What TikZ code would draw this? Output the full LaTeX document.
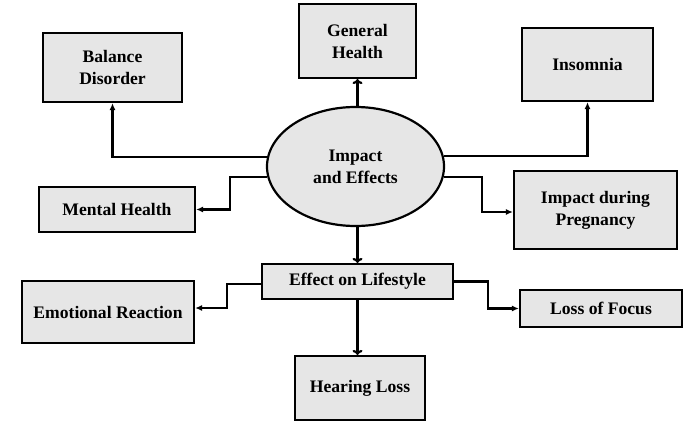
\documentclass[tikz,border=0pt]{standalone}
\usepackage{fontspec}
\setmainfont{Liberation Serif}
\usetikzlibrary{arrows.meta,shapes.geometric}

\tikzset{
  box/.style={draw, line width=2.2pt, fill=boxgray, align=center,
    font=\fontsize{17.6}{22}\selectfont\bfseries, inner sep=2pt},
  arr/.style={line width=2.2pt, -{Latex[length=7pt,width=6pt]}},
  arro/.style={line width=2.2pt, -{To[length=5pt,width=10pt]}}
}
\definecolor{boxgray}{HTML}{E6E6E6}

\begin{document}
\begin{tikzpicture}[x=1pt,y=-1pt]
        \useasboundingbox (0,0) rectangle (700,425);
        % centre
        \node[box, ellipse, minimum width=177pt, minimum height=119pt] (imp) at (355.5,166.5) {Impact\\and Effects};
        % upper boxes
        \node[box, minimum width=139pt, minimum height=69pt] (bd) at (112.5,67.5) {Balance\\Disorder};
        \node[box, minimum width=117pt, minimum height=74pt] (gh) at (357.5,41) {General\\Health};
        \node[box, minimum width=131pt, minimum height=73pt] (ins) at (587.5,64.5) {Insomnia};
        \node[box, minimum width=156pt, minimum height=45pt] (mh) at (117,209.5) {Mental Health};
        \node[box, minimum width=163pt, minimum height=78pt] (prg) at (595.5,210) {Impact during\\Pregnancy};
        % lifestyle branch
        \node[box, minimum width=191pt, minimum height=35pt] (els) at (357.5,281.5) {Effect on Lifestyle};
        \node[box, minimum width=172pt, minimum height=62pt] (emo) at (108,312) {Emotional Reaction};
        \node[box, minimum width=162pt, minimum height=37pt] (lof) at (601,308.5) {Loss of Focus};
        \node[box, minimum width=130pt, minimum height=64pt] (hl) at (360,388) {Hearing Loss};
        % connectors
        \draw[arr] (imp.174.5) -| (bd);
        \draw[arro] (imp.north -| gh.south) -- (gh.south);
        \draw[arr] (imp.7.5) -| (ins);
        \draw[arr] (imp.187.5) -- ++(-37,0) |- (mh);
        \draw[arr] (imp.-7.5) -- ++(38,0) |- ([yshift=-2pt]prg.west);
        \draw[arro] (imp.south -| els.north) -- (els.north);
        \draw[arr] ([yshift=-2.5pt]els.west) -- ++(-34,0) |- ([yshift=4pt]emo.east);
        \draw[arr] (els.east) -- ++(34,0) |- (lof);
        \draw[arro] (els.south) -- (els.south |- hl.north);
      \end{tikzpicture}
\end{document}
